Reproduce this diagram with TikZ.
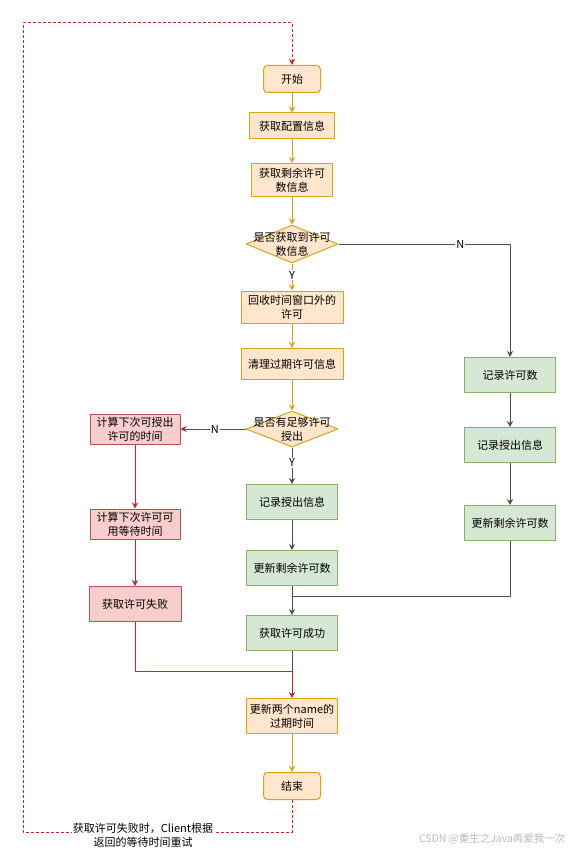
\documentclass[tikz,border=0pt]{standalone}
\usepackage{fontspec}
\setmainfont{Noto Sans CJK SC}
\usetikzlibrary{shapes.geometric,arrows.meta}
\definecolor{orgfill}{HTML}{FFE6CC}
\definecolor{orgline}{HTML}{D9A21B}
\definecolor{grnfill}{HTML}{D5E8D4}
\definecolor{grnline}{HTML}{82B366}
\definecolor{rdfill}{HTML}{F8CECC}
\definecolor{rdline}{HTML}{B85450}
\definecolor{rdarr}{HTML}{C4262B}
\definecolor{darr}{HTML}{4D4D4D}
\begin{document}
\begin{tikzpicture}[x=1pt,y=-1pt,>={Stealth[length=6pt,width=6pt]}, font=\fontsize{11}{14}\selectfont, line join=round,
	box/.style={rectangle, draw, align=center, inner sep=1pt, minimum width=91pt, minimum height=35pt, line width=1pt},
	org/.style={box, draw=orgline, fill=orgfill},
	grn/.style={box, draw=grnline, fill=grnfill},
	rd/.style={box, draw=rdline, fill=rdfill},
	term/.style={org, rounded corners=4pt, minimum width=57pt, minimum height=27pt},
	decision/.style={diamond, draw=orgline, fill=orgfill, inner sep=0pt, minimum width=92pt, minimum height=38pt, line width=1pt},
	oarr/.style={->, draw=orgline, line width=1pt},
	rarr/.style={->, draw=rdarr, line width=0.9pt},
	darrow/.style={->, draw=darr, line width=1pt},
	dline/.style={draw=darr, line width=1pt},
	lbl/.style={fill=white, inner sep=1pt},
	loopline/.style={draw=rdarr, line width=1pt, dash pattern=on 3pt off 2pt}]
	\useasboundingbox (0,0) rectangle (569,850);
	\node[term] (start) at (292,79) {开始};
	\node[org, minimum width=85pt, minimum height=26pt] (cfg) at (292,126) {获取配置信息};
	\node[org, minimum width=81pt, minimum height=33pt] (rem) at (292,180) {获取剩余许可\\数信息};
	\node[decision, label={[align=center]center:是否获取到许可\\数信息}] (dec1) at (292,244) {};
	\node[org, minimum width=102pt, minimum height=32pt] (rec) at (292,307) {回收时间窗口外的\\许可};
	\node[org, minimum width=102pt, minimum height=31pt] (clean) at (292,364) {清理过期许可信息};
	\node[decision, minimum height=36pt, label={[align=center]center:是否有足够许可\\授出}] (dec2) at (292,429) {};
	\node[rd, minimum width=90pt, minimum height=30pt] (calc1) at (135,429) {计算下次可授出\\许可的时间};
	\node[rd, minimum width=90pt, minimum height=30pt] (calc2) at (135,524) {计算下次许可可\\用等待时间};
	\node[rd, minimum width=92pt] (fail) at (135,604) {获取许可失败};
	\node[grn] (grant) at (292,502) {记录授出信息};
	\node[grn] (upd) at (292,568) {更新剩余许可数};
	\node[grn] (succ) at (292,633) {获取许可成功};
	\node[org] (exp) at (292,716) {更新两个name的\\过期时间};
	\node[term] (end) at (292,786) {结束};
	\node[grn] (cnt) at (510,375) {记录许可数};
	\node[grn] (grant2) at (510,445) {记录授出信息};
	\node[grn] (upd2) at (510,523) {更新剩余许可数};
	\coordinate (j1) at (292,596);
	\coordinate (j2) at (292,671);
	\coordinate (lb) at (23,832);
	\coordinate (lt) at (23,23);
	\draw[oarr] (start) -- (cfg);
	\draw[oarr] (cfg) -- (rem);
	\draw[oarr] (rem) -- (dec1);
	\draw[oarr] (dec1) -- node[lbl,pos=0.43]{Y} (rec);
	\draw[oarr] (rec) -- (clean);
	\draw[oarr] (clean) -- (dec2);
	\draw[darrow] (dec1.east) -| node[lbl,pos=0.355]{N} (cnt.north);
	\draw[darrow] (cnt) -- (grant2);
	\draw[darrow] (grant2) -- (upd2);
	\draw[dline] (upd2.south) |- (j1);
	\draw[rarr] (dec2) -- node[lbl,pos=0.47]{N} (calc1);
	\draw[darrow] (dec2) -- node[lbl,pos=0.42]{Y} (grant);
	\draw[rarr] (calc1) -- (calc2);
	\draw[rarr] (calc2) -- (fail);
	\draw[darrow] (grant) -- (upd);
	\draw[darrow] (upd) -- (succ);
	\draw[dline] (succ) -- (j2);
	\draw[rarr] (fail.south) |- (j2) -- (exp.north);
	\draw[oarr] (exp) -- (end);
	\draw[loopline,->] (end.south) |- (lb) -- (lt) -| (start.north);
	\node[lbl, align=center] (note) at (143,835) {获取许可失败时，Client根据\\返回的等待时间重试};
	\node[anchor=east, text=gray!55, font=\fontsize{10.5}{12}\selectfont] (wm) at (569,839) {CSDN @重生之Java再爱我一次};
\end{tikzpicture}
\end{document}
